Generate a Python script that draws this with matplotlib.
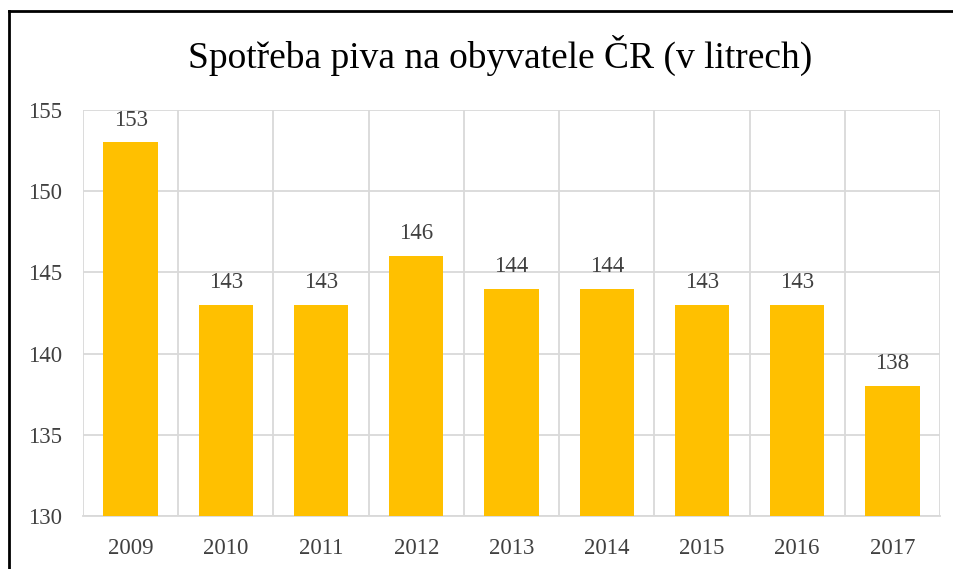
import matplotlib.pyplot as plt
from matplotlib.lines import Line2D

plt.rcParams['font.family'] = ['Liberation Serif', 'DejaVu Serif']

years = ['2009', '2010', '2011', '2012', '2013', '2014', '2015', '2016', '2017']
litres = [153, 143, 143, 146, 144, 144, 143, 143, 138]

gold = '#FFC000'
grid_c = '#D9D9D9'
text_c = '#404040'

fig = plt.figure(figsize=(9.54, 5.69), dpi=100)
W, H = 954, 569
ax = fig.add_axes([83 / W, 1 - 516 / H, (940 - 83) / W, (516 - 110) / H])

x = range(len(years))
ax.bar(x, litres, width=0.57, color=gold, zorder=3)
ax.set_xlim(-0.5, len(years) - 0.5)
ax.set_ylim(130, 155)
ax.set_yticks(range(130, 156, 5))
ax.set_xticks(list(x))
ax.set_xticklabels(years)

# vertical gridlines sit between categories
for b in range(len(years) + 1):
    ax.axvline(b - 0.5, color=grid_c, lw=1.3, zorder=1)
ax.yaxis.grid(True, color=grid_c, lw=1.3, zorder=1)
ax.set_axisbelow(True)

for s in ['top', 'right', 'left']:
    ax.spines[s].set_visible(False)
ax.spines['bottom'].set_color(grid_c)
ax.spines['bottom'].set_linewidth(1.3)

ax.tick_params(axis='both', length=0, labelsize=16.5, colors=text_c)
ax.tick_params(axis='y', pad=15)
ax.tick_params(axis='x', pad=15.5)

for i, v in enumerate(litres):
    ax.annotate(str(v), (i, v), xytext=(0, 12), textcoords='offset points',
                ha='center', va='baseline', fontsize=16.5, color=text_c)

fig.text(500 / W, 1 - 55 / H, 'Spotřeba piva na obyvatele ČR (v litrech)',
         ha='center', va='center', fontsize=27, color='black')

# frame lines of the chart box (top and left only visible)
fig.add_artist(Line2D([9 / W, 1], [1 - 11 / H, 1 - 11 / H], color='black', lw=2,
                      transform=fig.transFigure))
fig.add_artist(Line2D([9 / W, 9 / W], [0, 1 - 11 / H], color='black', lw=2,
                      transform=fig.transFigure))

fig.savefig('out.png', dpi=100)
